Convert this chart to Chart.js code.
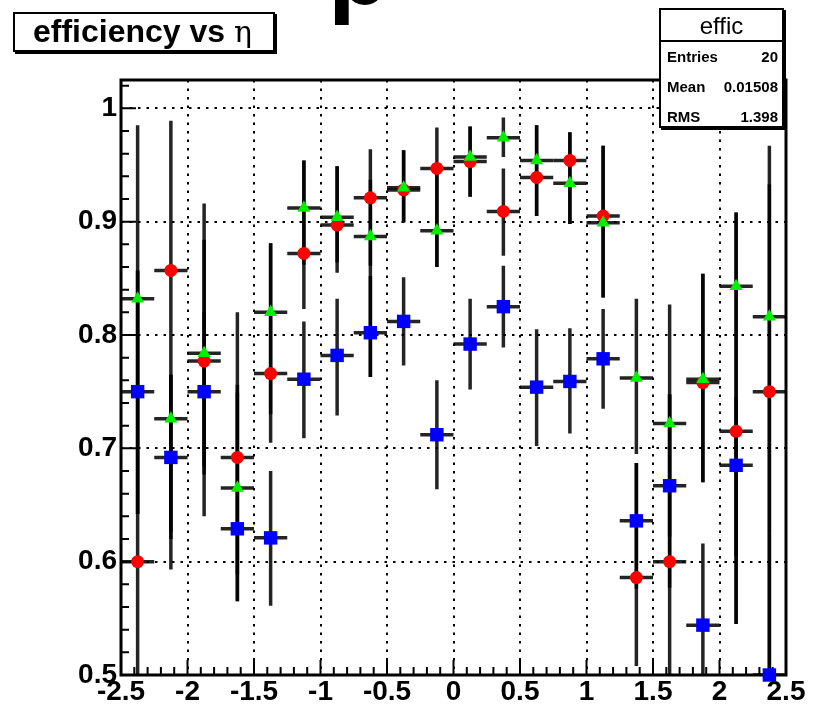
<!DOCTYPE html>
<html>
<head>
<meta charset="utf-8">
<title>efficiency vs eta</title>
<script src="https://cdn.jsdelivr.net/npm/chart.js@4.4.0/dist/chart.umd.min.js"></script>
<style>
  html, body { margin: 0; padding: 0; background: #fff; }
  #wrap { position: relative; width: 824px; height: 706px; overflow: hidden; font-family: "Liberation Sans", Arial, sans-serif; }
  #effChart { position: absolute; left: 0; top: 0; }
  .cut-title { position: absolute; left: 328px; top: -81px; font: bold 100px/100px "Liberation Sans", Arial, sans-serif; color: #000; }
  .title-box {
    position: absolute; left: 13px; top: 12px; width: 262px; height: 40px;
    box-sizing: border-box; border: 2px solid #000; box-shadow: 2px 2px 0 #000; background: #fff;
    font-weight: bold; font-size: 32px; line-height: 35px; padding-left: 18px; white-space: nowrap;
  }
  .title-box .eta { font-family: "DejaVu Serif", serif; font-weight: normal; font-size: 30px; }
  .stats {
    position: absolute; left: 659px; top: 8px; width: 125px; height: 120px;
    box-sizing: border-box; border: 2px solid #000; box-shadow: 2px 2px 0 #000; background: #fff;
  }
  .stats .head { height: 30px; border-bottom: 2px solid #000; text-align: center; font-size: 24px; line-height: 31px; }
  .stats .row { position: relative; height: 30px; font-weight: bold; font-size: 15px; line-height: 30px; }
  .stats .row .k { position: absolute; left: 6px; }
  .stats .row .v { position: absolute; right: 4px; }
</style>
</head>
<body>
<div id="wrap">
  <canvas id="effChart" width="824" height="706"></canvas>
  <div class="cut-title">p</div>
  <div class="title-box">efficiency vs <span class="eta">η</span></div>
  <div class="stats">
    <div class="head">effic</div>
    <div class="row"><span class="k">Entries</span><span class="v">20</span></div>
    <div class="row"><span class="k">Mean</span><span class="v">0.01508</span></div>
    <div class="row"><span class="k">RMS</span><span class="v">1.398</span></div>
  </div>
</div>
<script>
// eta bin centres (bin width 0.25)
const etaBins = [-2.375, -2.125, -1.875, -1.625, -1.375, -1.125, -0.875, -0.625, -0.375, -0.125,
                 0.125, 0.375, 0.625, 0.875, 1.125, 1.375, 1.625, 1.875, 2.125, 2.375];
const halfBin = 0.125;

// red circles
const redEff     = [0.600, 0.857, 0.777, 0.692, 0.766, 0.872, 0.897, 0.921, 0.928, 0.947,
                    0.953, 0.909, 0.939, 0.954, 0.905, 0.586, 0.600, 0.758, 0.715, 0.750];
const redErrUp   = [0.385, 0.132, 0.139, 0.128, 0.115, 0.082, 0.052, 0.043, 0.035, 0.036,
                    0.031, 0.038, 0.046, 0.025, 0.062, 0.101, 0.148, 0.096, 0.193, 0.217];
const redErrDown = [0.250, 0.264, 0.137, 0.127, 0.061, 0.049, 0.042, 0.060, 0.029, 0.087,
                    0.031, 0.039, 0.034, 0.056, 0.072, 0.078, 0.120, 0.088, 0.170, 0.300];

// green triangles
const greenEff     = [0.832, 0.726, 0.784, 0.665, 0.820, 0.912, 0.904, 0.887, 0.930, 0.892,
                      0.957, 0.974, 0.954, 0.934, 0.899, 0.762, 0.722, 0.761, 0.843, 0.816];
const greenErrUp   = [0.025, 0.039, 0.100, 0.091, 0.061, 0.042, 0.045, 0.050, 0.033, 0.050,
                      0.027, 0.018, 0.031, 0.045, 0.068, 0.070, 0.105, 0.093, 0.065, 0.117];
const greenErrDown = [0.190, 0.100, 0.100, 0.076, 0.090, 0.050, 0.040, 0.124, 0.030, 0.032,
                      0.035, 0.017, 0.049, 0.036, 0.066, 0.067, 0.100, 0.091, 0.298, 0.191];

// blue squares
const blueEff     = [0.750, 0.692, 0.750, 0.629, 0.621, 0.761, 0.782, 0.802, 0.812, 0.712,
                     0.792, 0.825, 0.754, 0.759, 0.779, 0.636, 0.667, 0.544, 0.685, 0.500];
const blueErrUp   = [0.107, 0.073, 0.070, 0.120, 0.059, 0.051, 0.050, 0.050, 0.039, 0.048,
                     0.040, 0.036, 0.051, 0.047, 0.044, 0.051, 0.080, 0.072, 0.060, 0.125];
const blueErrDown = [0.108, 0.072, 0.073, 0.064, 0.060, 0.052, 0.053, 0.039, 0.039, 0.048,
                     0.040, 0.036, 0.052, 0.046, 0.044, 0.060, 0.090, 0.060, 0.080, 0.100];

const xTicks = [-2.5, -2, -1.5, -1, -0.5, 0, 0.5, 1, 1.5, 2, 2.5];
const yTicks = [0.5, 0.6, 0.7, 0.8, 0.9, 1];

const toPoints = vals => etaBins.map((x, i) => ({ x: x, y: vals[i] }));

// error bars, ticks and the frame go under the markers
const framePlugin = {
  id: 'framePlugin',
  beforeDatasetsDraw(chart) {
    const { ctx, chartArea: a, scales: { x, y } } = chart;

    ctx.save();
    ctx.beginPath();
    ctx.rect(a.left, a.top, a.right - a.left, a.bottom - a.top);
    ctx.clip();
    ctx.strokeStyle = 'rgba(0,0,0,0.86)';
    ctx.lineWidth = 3.5;
    chart.data.datasets.forEach(ds => {
      ds.data.forEach((p, i) => {
        const px = x.getPixelForValue(p.x);
        const py = y.getPixelForValue(p.y);
        ctx.beginPath();
        ctx.moveTo(px, y.getPixelForValue(p.y - ds.errDown[i]));
        ctx.lineTo(px, y.getPixelForValue(p.y + ds.errUp[i]));
        ctx.moveTo(x.getPixelForValue(p.x - halfBin), py);
        ctx.lineTo(x.getPixelForValue(p.x + halfBin), py);
        ctx.stroke();
      });
    });
    ctx.restore();

    // axis ticks drawn inside the frame
    ctx.save();
    ctx.strokeStyle = '#000';
    ctx.lineWidth = 2;
    ctx.beginPath();
    for (let k = 0; k <= 50; k++) {
      const px = x.getPixelForValue(-2.5 + k * 0.1);
      const len = k % 5 === 0 ? 15 : 8;
      ctx.moveTo(px, a.bottom);
      ctx.lineTo(px, a.bottom - len);
    }
    for (let k = 0; k <= 26; k++) {
      const py = y.getPixelForValue(0.5 + k * 0.02);
      const len = k % 5 === 0 ? 15 : 8;
      ctx.moveTo(a.left, py);
      ctx.lineTo(a.left + len, py);
    }
    ctx.stroke();

    ctx.lineWidth = 3;
    ctx.strokeRect(a.left, a.top, a.right - a.left, a.bottom - a.top);
    ctx.restore();
  }
};

const tickFont = { family: '"Liberation Sans", Arial, sans-serif', size: 28, weight: 'bold' };

new Chart(document.getElementById('effChart'), {
  type: 'scatter',
  data: {
    datasets: [
      {
        label: 'green',
        data: toPoints(greenEff),
        errUp: greenErrUp, errDown: greenErrDown,
        pointStyle: 'triangle', pointRadius: 7.5,
        backgroundColor: '#00f000', borderColor: '#00f000', borderWidth: 0,
        clip: false, order: 1
      },
      {
        label: 'blue',
        data: toPoints(blueEff),
        errUp: blueErrUp, errDown: blueErrDown,
        pointStyle: 'rect', pointRadius: 9.5,
        backgroundColor: '#0000ff', borderColor: '#0000ff', borderWidth: 0,
        clip: false, order: 2
      },
      {
        label: 'red',
        data: toPoints(redEff),
        errUp: redErrUp, errDown: redErrDown,
        pointStyle: 'circle', pointRadius: 6.5,
        backgroundColor: '#ff0000', borderColor: '#ff0000', borderWidth: 0,
        clip: false, order: 3
      }
    ]
  },
  options: {
    responsive: false,
    animation: false,
    layout: { padding: { left: 0, top: 80, right: 38, bottom: 0 } },
    plugins: { legend: { display: false }, tooltip: { enabled: false } },
    scales: {
      x: {
        type: 'linear', min: -2.5, max: 2.5,
        afterBuildTicks: s => { s.ticks = xTicks.map(v => ({ value: v })); },
        afterFit: s => { s.height = 31; },
        grid: { color: '#000', lineWidth: 2, drawTicks: false },
        border: { display: false, dash: [2.5, 6] },
        ticks: { color: '#000', font: tickFont, padding: 0, maxRotation: 0,
                 callback: v => String(v) }
      },
      y: {
        type: 'linear', min: 0.5, max: 1.025,
        afterBuildTicks: s => { s.ticks = yTicks.map(v => ({ value: v })); },
        afterFit: s => { s.width = 121; },
        grid: { color: '#000', lineWidth: 2, drawTicks: false },
        border: { display: false, dash: [2.5, 6] },
        ticks: { color: '#000', font: tickFont, padding: 4,
                 callback: v => String(v) }
      }
    }
  },
  plugins: [framePlugin]
});
</script>
</body>
</html>
